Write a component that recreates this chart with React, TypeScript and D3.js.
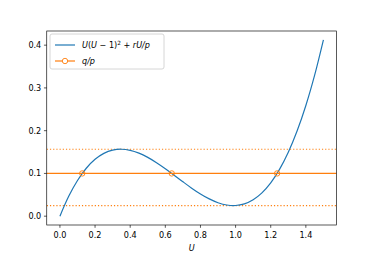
import React, { useEffect, useRef } from 'react';
import * as d3 from 'd3';

// curve U(U-1)^2 + rU/p
const uValues = [0, 0.05, 0.1, 0.15, 0.2, 0.25, 0.3, 0.35, 0.4, 0.45, 0.5, 0.55, 0.6, 0.65, 0.7, 0.75,
  0.8, 0.85, 0.9, 0.95, 1.0, 1.05, 1.1, 1.15, 1.2, 1.25, 1.3, 1.35, 1.4, 1.45, 1.5];
const curveValues = [0, 0.0464, 0.0835, 0.1121, 0.133, 0.1469, 0.1545, 0.1566, 0.154, 0.1474, 0.1375,
  0.1251, 0.111, 0.0959, 0.0805, 0.0656, 0.052, 0.0404, 0.0315, 0.0261, 0.025, 0.0289, 0.0385, 0.0546,
  0.078, 0.1094, 0.1495, 0.1991, 0.259, 0.3299, 0.4125];

const qOverP = 0.1;
const crossings = [0.127, 0.6365, 1.2364];
const dottedLevels = [0.1566, 0.0249];

const xTicks = [0, 0.2, 0.4, 0.6, 0.8, 1.0, 1.2, 1.4];
const yTicks = [0, 0.1, 0.2, 0.3, 0.4];

const BLUE = '#1f77b4';
const ORANGE = '#ff7f0e';

const App = () => {
  const svgRef = useRef<SVGSVGElement>(null);

  useEffect(() => {
    const svg = d3.select(svgRef.current);
    svg.selectAll('*').remove();

    const width = 374;
    const height = 257;
    const left = 46.75, right = 336.6, top = 31, bottom = 225;

    const x = d3.scaleLinear().domain([-0.075, 1.575]).range([left, right]);
    const y = d3.scaleLinear().domain([-0.020625, 0.433125]).range([bottom, top]);

    svg.attr('width', width).attr('height', height);
    svg.append('rect').attr('width', width).attr('height', height).attr('fill', '#fff');

    const clip = svg.append('defs').append('clipPath').attr('id', 'plotclip');
    clip.append('rect').attr('x', left).attr('y', top).attr('width', right - left).attr('height', bottom - top);

    const plot = svg.append('g').attr('clip-path', 'url(#plotclip)');

    // dotted levels
    plot.selectAll('line.dot')
      .data(dottedLevels)
      .join('line')
      .attr('class', 'dot')
      .attr('x1', left).attr('x2', right)
      .attr('y1', d => y(d)).attr('y2', d => y(d))
      .attr('stroke', ORANGE)
      .attr('stroke-width', 1.2)
      .attr('stroke-dasharray', '1.2,2');

    const pts = uValues.map((u, i) => [u, curveValues[i]] as [number, number]);
    const line = d3.line<[number, number]>()
      .x(d => x(d[0]))
      .y(d => y(d[1]))
      .curve(d3.curveCatmullRom);

    plot.append('path')
      .attr('d', line(pts))
      .attr('fill', 'none')
      .attr('stroke', BLUE)
      .attr('stroke-width', 1.2);

    plot.append('line')
      .attr('x1', left).attr('x2', right)
      .attr('y1', y(qOverP)).attr('y2', y(qOverP))
      .attr('stroke', ORANGE)
      .attr('stroke-width', 1.3);

    plot.selectAll('circle')
      .data(crossings)
      .join('circle')
      .attr('cx', d => x(d))
      .attr('cy', y(qOverP))
      .attr('r', 2.7)
      .attr('fill', 'none')
      .attr('stroke', ORANGE)
      .attr('stroke-width', 0.9);

    // spines
    svg.append('rect')
      .attr('x', left).attr('y', top)
      .attr('width', right - left).attr('height', bottom - top)
      .attr('fill', 'none')
      .attr('stroke', '#000')
      .attr('stroke-width', 0.65);

    const font = 'DejaVu Sans';

    // x ticks
    const xt = svg.append('g');
    xt.selectAll('line')
      .data(xTicks)
      .join('line')
      .attr('x1', d => x(d)).attr('x2', d => x(d))
      .attr('y1', bottom).attr('y2', bottom + 2.8)
      .attr('stroke', '#000').attr('stroke-width', 0.65);
    xt.selectAll('text')
      .data(xTicks)
      .join('text')
      .attr('x', d => x(d))
      .attr('y', bottom + 12.5)
      .attr('text-anchor', 'middle')
      .attr('font-family', font)
      .attr('font-size', 8.1)
      .attr('fill', '#000')
      .text(d => d.toFixed(1));

    // y ticks
    const yt = svg.append('g');
    yt.selectAll('line')
      .data(yTicks)
      .join('line')
      .attr('x1', left - 2.8).attr('x2', left)
      .attr('y1', d => y(d)).attr('y2', d => y(d))
      .attr('stroke', '#000').attr('stroke-width', 0.65);
    yt.selectAll('text')
      .data(yTicks)
      .join('text')
      .attr('x', left - 5.5)
      .attr('y', d => y(d) + 3)
      .attr('text-anchor', 'end')
      .attr('font-family', font)
      .attr('font-size', 8.1)
      .attr('fill', '#000')
      .text(d => d.toFixed(1));

    // x label
    svg.append('text')
      .attr('x', (left + right) / 2)
      .attr('y', 251)
      .attr('text-anchor', 'middle')
      .attr('font-family', font)
      .attr('font-style', 'italic')
      .attr('font-size', 8.1)
      .text('U');

    // legend
    const lg = svg.append('g');
    lg.append('rect')
      .attr('x', 50).attr('y', 34)
      .attr('width', 114).attr('height', 35)
      .attr('rx', 2)
      .attr('fill', '#fff')
      .attr('fill-opacity', 0.8)
      .attr('stroke', '#ccc')
      .attr('stroke-width', 0.8);
    lg.append('line')
      .attr('x1', 55).attr('x2', 75).attr('y1', 45).attr('y2', 45)
      .attr('stroke', BLUE).attr('stroke-width', 1.2);
    lg.append('line')
      .attr('x1', 55).attr('x2', 75).attr('y1', 61).attr('y2', 61)
      .attr('stroke', ORANGE).attr('stroke-width', 1.2);
    lg.append('circle')
      .attr('cx', 65).attr('cy', 61).attr('r', 2.7)
      .attr('fill', '#fff').attr('stroke', ORANGE).attr('stroke-width', 0.9);

    const t1 = lg.append('text')
      .attr('x', 82).attr('y', 48)
      .attr('font-family', font)
      .attr('font-size', 8.1);
    const parts: [string, boolean][] = [
      ['U', true], ['(', false], ['U', true], [' \u2212 1)', false],
    ];
    parts.forEach(([s, it]) => t1.append('tspan').attr('font-style', it ? 'italic' : 'normal').text(s));
    t1.append('tspan').attr('font-size', 5.7).attr('dy', -3.2).text('2');
    t1.append('tspan').attr('dy', 3.2).text(' + ');
    t1.append('tspan').attr('font-style', 'italic').text('rU/p');

    lg.append('text')
      .attr('x', 82).attr('y', 64)
      .attr('font-family', font)
      .attr('font-style', 'italic')
      .attr('font-size', 8.1)
      .text('q/p');
  }, []);

  return <svg ref={svgRef} style={{ display: 'block', position: 'absolute', left: 0, top: 0 }} />;
};

export default App;
